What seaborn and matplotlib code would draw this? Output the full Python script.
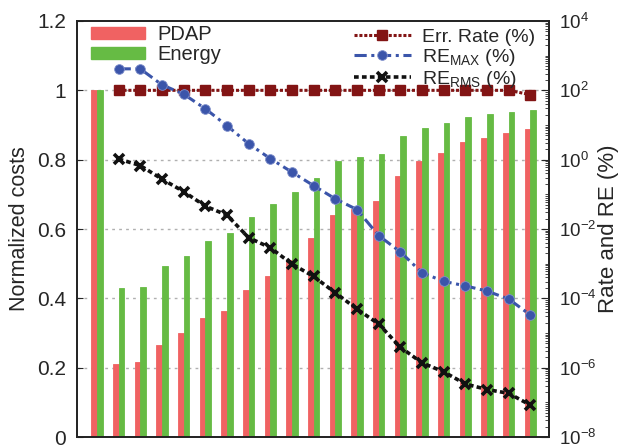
import numpy as np
import pandas as pd
import matplotlib
matplotlib.use("Agg")
import matplotlib.pyplot as plt
from matplotlib.ticker import FixedLocator, LogLocator, LogFormatterSciNotation, NullFormatter
from matplotlib.patches import Patch
import seaborn as sns

sns.set_style("white")
plt.rcParams['font.family'] = ['Liberation Sans', 'DejaVu Sans']
plt.rcParams['mathtext.fontset'] = 'custom'
plt.rcParams['mathtext.rm'] = 'Liberation Sans'
plt.rcParams['mathtext.it'] = 'Liberation Sans'

# bar data (normalized costs), 21 configurations
pdap = [1.0, 0.21, 0.215, 0.264, 0.299, 0.342, 0.363, 0.424, 0.464, 0.51, 0.573,
        0.640, 0.657, 0.680, 0.753, 0.796, 0.819, 0.851, 0.862, 0.877, 0.888]
energy = [1.0, 0.429, 0.434, 0.492, 0.522, 0.565, 0.588, 0.634, 0.671, 0.708, 0.746,
          0.796, 0.808, 0.816, 0.868, 0.892, 0.906, 0.923, 0.931, 0.937, 0.942]

# line data (%), configurations 1..20
line_x = list(range(1, 21))
err_rate = [100] * 19 + [75]
re_max_log = [2.62, 2.62, 2.16, 1.89, 1.47, 0.98, 0.46, 0.03, -0.36, -0.75,
              -1.13, -1.44, -2.19, -2.66, -3.26, -3.51, -3.64, -3.79, -4.02, -4.48]
re_rms_log = [0.02, -0.17, -0.56, -0.92, -1.34, -1.6, -2.25, -2.54, -3.01, -3.37,
              -3.84, -4.31, -4.74, -5.41, -5.86, -6.12, -6.47, -6.63, -6.74, -7.08]
re_max = [10 ** v for v in re_max_log]
re_rms = [10 ** v for v in re_rms_log]

n = len(pdap)
df = pd.DataFrame({
    'idx': list(range(n)) * 2,
    'cost': pdap + energy,
    'kind': ['PDAP'] * n + ['Energy'] * n,
})

fig = plt.figure(figsize=(6.29, 4.48), dpi=100)
ax = fig.add_axes([77 / 629, 11 / 448, 472 / 629, 416 / 448])

red = '#f06262'
green = '#66bb44'
sns.barplot(data=df, x='idx', y='cost', hue='kind', palette=[red, green],
            width=0.52, gap=0, ax=ax, saturation=1, legend=False)
for p, c in zip(ax.patches, [red] * n + [green] * n):
    p.set_edgecolor(c)
    p.set_linewidth(0.6)

ax.set_xlim(-0.92, 20.86)
ax.set_ylim(0, 1.2)
ax.set_xlabel('')
ax.set_ylabel('Normalized costs', fontsize=15.5, labelpad=5)
ax.set_xticks([])
ax.yaxis.set_major_locator(FixedLocator([0, 0.2, 0.4, 0.6, 0.8, 1.0, 1.2]))
ax.set_yticklabels(['0', '0.2', '0.4', '0.6', '0.8', '1', '1.2'])
ax.tick_params(axis='y', direction='in', length=4, labelsize=15, pad=8, left=True)
for v in [0.2, 0.4, 0.6, 0.8, 1.0]:
    ax.axhline(v, color='#b0b0b0', lw=1, ls=(0, (2, 3)), zorder=0)
for s in ax.spines.values():
    s.set_color('black')
    s.set_linewidth(1.2)

ax2 = ax.twinx()
ax2.set_yscale('log')
ax2.set_ylim(1e-8, 1e4)
ax2.plot(line_x, err_rate, color='#821414', ls=(0, (1, 0.6)), lw=2.2,
         marker='s', ms=7, label='Err. Rate (%)')
ax2.plot(line_x, re_max, color='#3b55aa', ls=(0, (4, 1.5, 1, 1.5)), lw=2.2,
         marker='o', ms=7, mec='#8090cc', mew=0.6, label=r'RE$_{\mathrm{MAX}}$ (%)')
ax2.plot(line_x, re_rms, color='#111111', ls=(0, (1.3, 0.9)), lw=2.6,
         marker='x', ms=7, mew=2.6, label=r'RE$_{\mathrm{RMS}}$ (%)')
ax2.yaxis.set_major_locator(FixedLocator([10.0 ** k for k in range(-8, 5, 2)]))
ax2.yaxis.set_major_formatter(LogFormatterSciNotation())
ax2.yaxis.set_minor_locator(LogLocator(base=10, subs=np.arange(1, 10), numticks=50))
ax2.yaxis.set_minor_formatter(NullFormatter())
ax2.tick_params(axis='y', which='major', direction='in', length=6, labelsize=13.5, pad=7)
ax2.tick_params(axis='y', which='minor', direction='in', length=3)
ax2.set_ylabel('Rate and RE (%)', fontsize=16, labelpad=1)
ax2.set_xlim(-0.92, 20.86)
for s in ax2.spines.values():
    s.set_linewidth(1.2)
# keep the lowest decade label inside the canvas
ax2.get_yticklabels()[0].set_va('center_baseline')

# legends
h1 = [Patch(facecolor=red, edgecolor=red), Patch(facecolor=green, edgecolor=green)]
leg1 = ax2.legend(h1, ['PDAP', 'Energy'], loc='upper left', bbox_to_anchor=(0.0, 1.025),
                  frameon=False, fontsize=14.5, handlelength=2.7, handleheight=0.55,
                  handletextpad=0.6, labelspacing=0.05, borderaxespad=0.3)
ax2.add_artist(leg1)
ax2.legend(loc='upper right', bbox_to_anchor=(1.0, 1.015), frameon=False, fontsize=14,
           handlelength=2.9, handletextpad=0.6, labelspacing=0.05, borderaxespad=0.3)

fig.savefig('out.png', dpi=100)
